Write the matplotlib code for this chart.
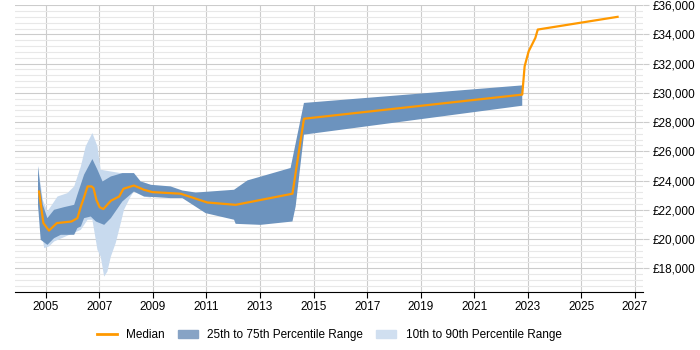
import numpy as np
import matplotlib.pyplot as plt
from matplotlib.ticker import MultipleLocator, FuncFormatter
from matplotlib.patches import Patch
from matplotlib.lines import Line2D

plt.rcParams['font.family'] = ['Liberation Sans', 'DejaVu Sans']

# median salary
med_x = [2004.75, 2004.91, 2005.12, 2005.41, 2005.96, 2006.18, 2006.31, 2006.41,
         2006.56, 2006.71, 2006.78, 2006.89, 2007.01, 2007.15, 2007.43, 2007.74,
         2007.90, 2008.29, 2008.67, 2008.98, 2010.04, 2011.03, 2012.09, 2014.21,
         2014.64, 2022.79, 2022.88, 2023.03, 2023.28, 2023.37, 2026.35]
med_y = [23250, 21090, 20580, 21090, 21200, 21430, 22230, 22750,
         23600, 23600, 23490, 22680, 22180, 22050, 22620, 22910,
         23440, 23660, 23370, 23210, 23100, 22500, 22340, 23100,
         28230, 29880, 31820, 32840, 33760, 34330, 35200]

# 75th percentile
p75_x = [2004.71, 2004.81, 2004.89, 2005.06, 2005.31, 2005.68, 2006.06, 2006.18,
         2006.43, 2006.74, 2006.93, 2007.12, 2007.43, 2007.86, 2008.29, 2008.54,
         2008.92, 2009.66, 2010.10, 2010.60, 2012.03, 2012.53, 2014.14, 2014.64,
         2022.79]
p75_y = [24970, 23370, 22340, 21430, 22000, 22180, 22340, 23030,
         24400, 25470, 24740, 23940, 24280, 24510, 24510, 23940,
         23710, 23600, 23320, 23180, 23370, 24010, 24860, 29310,
         30510]

# 25th percentile
p25_x = [2004.71, 2004.81, 2005.06, 2005.31, 2005.56, 2006.06, 2006.18, 2006.31,
         2006.43, 2006.68, 2006.87, 2007.18, 2007.43, 2007.86, 2008.29, 2008.67,
         2009.66, 2010.10, 2010.97, 2012.03, 2012.09, 2013.02, 2014.21, 2014.33,
         2014.64, 2022.79]
p25_y = [22340, 19950, 19600, 20060, 20290, 20290, 20750, 20860,
         21430, 21540, 21200, 20970, 21430, 22570, 23250, 22910,
         22800, 22800, 21770, 21320, 21040, 20970, 21200, 22230,
         27140, 29120]

# 90th percentile
p90_x = [2004.71, 2004.89, 2005.06, 2005.19, 2005.44, 2005.81, 2006.06, 2006.31,
         2006.49, 2006.74, 2006.93, 2007.05, 2007.43, 2007.80, 2008.29, 2008.54,
         2008.92]
p90_y = [24990, 22680, 21880, 22230, 22910, 23140, 23600, 24970,
         26340, 27250, 26340, 24740, 24620, 24510, 24510, 23940,
         23710]

# 10th percentile
p10_x = [2004.71, 2004.94, 2005.12, 2005.31, 2006.31, 2006.56, 2006.74, 2006.93,
         2007.05, 2007.18, 2007.30, 2007.43, 2007.61, 2007.80, 2007.92, 2008.17,
         2008.29, 2008.67, 2008.92]
p10_y = [22340, 19380, 19490, 19830, 20630, 21320, 21320, 19260,
         18800, 17430, 17770, 18800, 19720, 21090, 22000, 22910,
         23250, 22910, 22820]

year_ticks = list(range(2005, 2028, 2))

c_med = '#ff9900'
c_iqr = '#6c93be'
c_dec = '#c8daee'

fig = plt.figure(figsize=(7, 3.5), dpi=100)
ax = fig.add_axes([0.0214, 0.165, 0.8972, 0.822])

ax.fill(p90_x + p10_x[::-1], p90_y + p10_y[::-1], color=c_dec, lw=0, zorder=2)
ax.fill(p75_x + p25_x[::-1], p75_y + p25_y[::-1], color=c_iqr, lw=0, zorder=3)
ax.plot(med_x, med_y, color=c_med, lw=1.6, zorder=4)

ax.set_xlim(2003.85, 2027.3)
ax.set_ylim(16360, 36040)

ax.set_xticks(year_ticks)
ax.yaxis.set_major_locator(MultipleLocator(2000))
ax.yaxis.set_minor_locator(MultipleLocator(400))
ax.yaxis.set_major_formatter(FuncFormatter(lambda v, p: '£{:,.0f}'.format(v)))
ax.yaxis.tick_right()

ax.grid(axis='x', which='major', color='#cccccc', lw=0.8, zorder=0)
ax.grid(axis='y', which='major', color='#cccccc', lw=0.8, zorder=0)
ax.grid(axis='y', which='minor', color='#e8e8e8', lw=0.8, zorder=0)
ax.set_axisbelow(True)

for s in ['top', 'right', 'left']:
    ax.spines[s].set_visible(False)
ax.spines['bottom'].set_color('black')

ax.tick_params(axis='x', length=4, color='black', labelsize=8.5, pad=2)
ax.tick_params(axis='y', which='major', length=4, color='#cccccc', labelsize=8.5, pad=3)
ax.tick_params(axis='y', which='minor', length=0)

handles = [Line2D([], [], color=c_med, lw=2),
           Patch(color='#87a3c5'),
           Patch(color='#d0dff0')]
labels = ['Median', '25th to 75th Percentile Range', '10th to 90th Percentile Range']
ax.legend(handles, labels, loc='upper center', bbox_to_anchor=(0.5, -0.09), ncol=3,
          frameon=False, fontsize=8.5, handlelength=1.7, columnspacing=1.1)

fig.savefig('out.png', dpi=100)
